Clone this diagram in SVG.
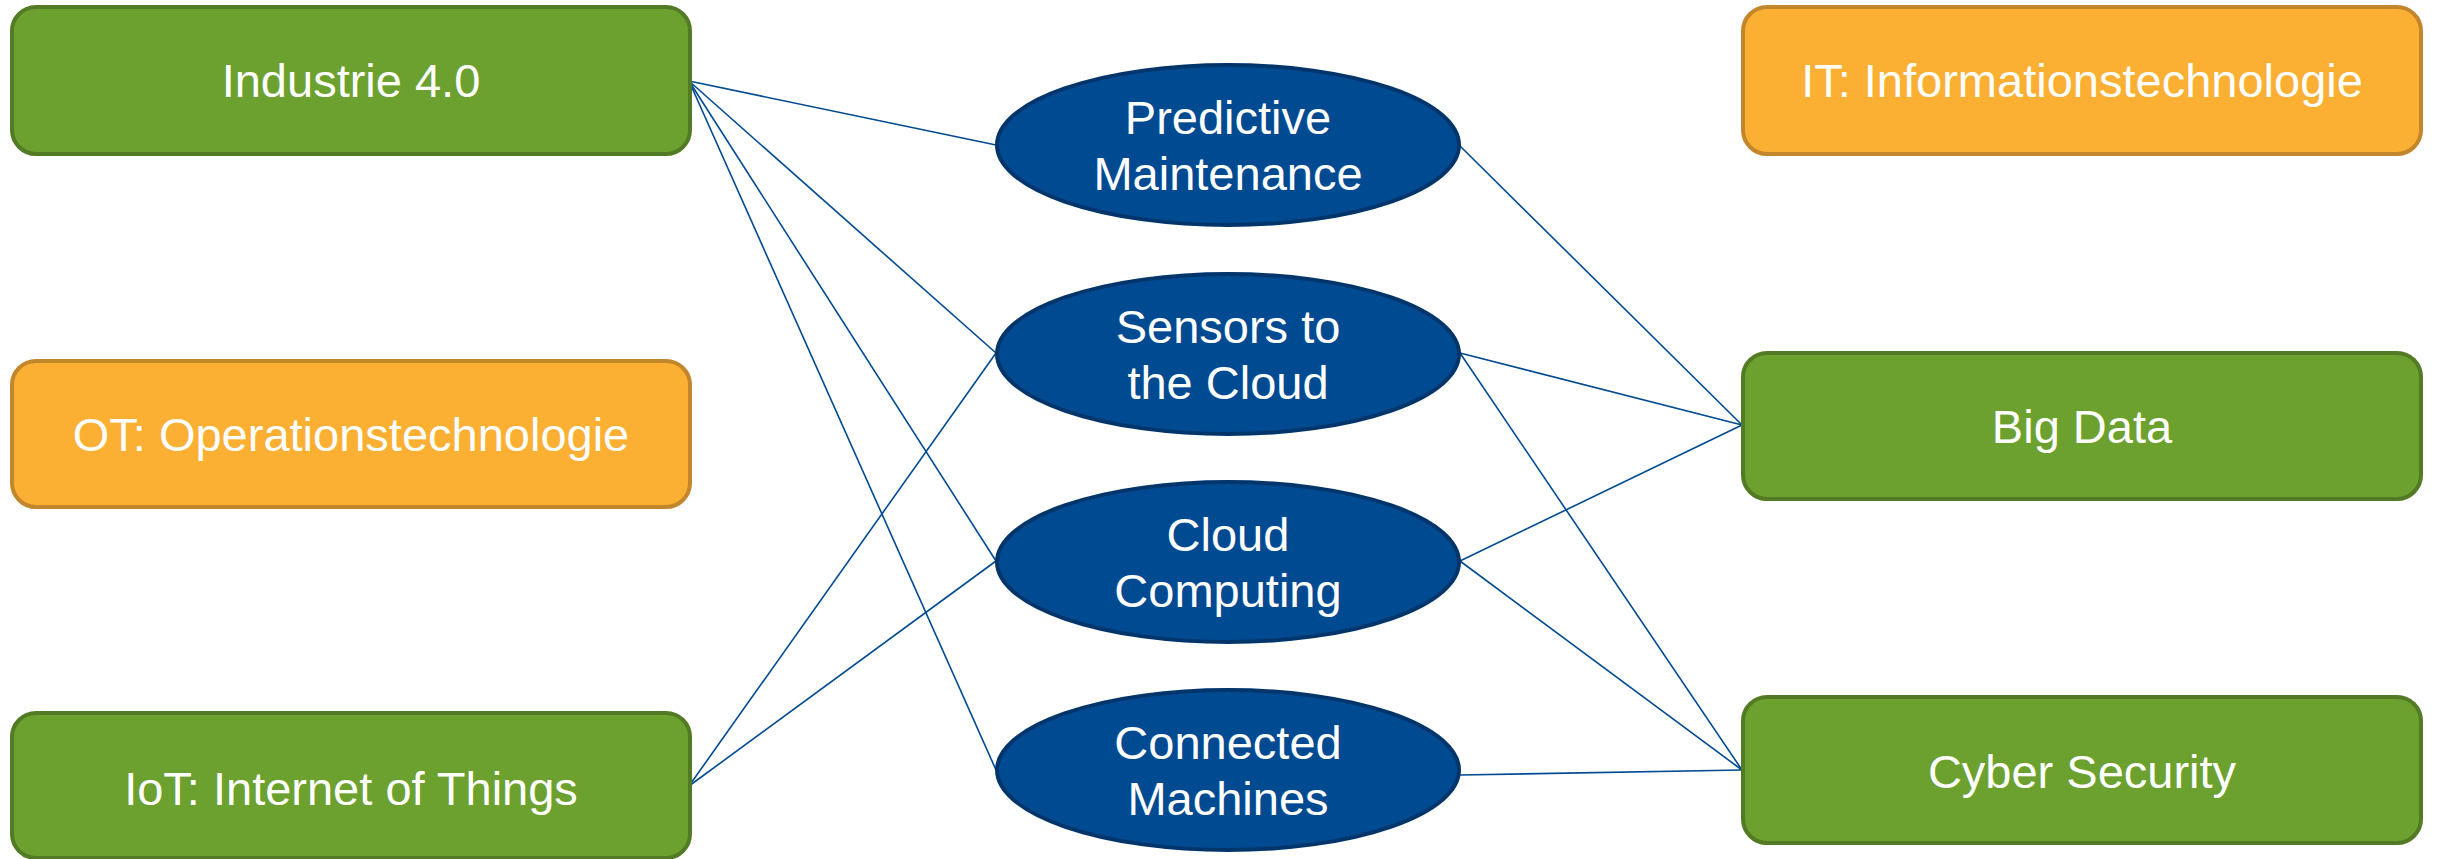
<svg xmlns="http://www.w3.org/2000/svg" width="2437" height="859" viewBox="0 0 2437 859">
<style>
.g{fill:#6ca12f;stroke:#537a24;stroke-width:4}
.o{fill:#fbb034;stroke:#c2872c;stroke-width:4}
.e{fill:#004a91;stroke:#00356b;stroke-width:4}
.t{font-family:"Liberation Sans",Arial,sans-serif;font-size:47px;fill:#ffffff;text-anchor:middle}
.c line{stroke:#004a91;stroke-width:1.6;fill:none}
</style>
<rect width="2437" height="859" fill="#ffffff"/>
<g class="c" id="connectors">
<line x1="689" y1="81" x2="996" y2="145"/>
<line x1="689" y1="81" x2="996" y2="353"/>
<line x1="689" y1="81" x2="996" y2="561"/>
<line x1="689" y1="81" x2="996" y2="770"/>
<line x1="689" y1="786" x2="996" y2="353"/>
<line x1="689" y1="786" x2="996" y2="561"/>
<line x1="1460" y1="146" x2="1742" y2="425"/>
<line x1="1460" y1="353" x2="1742" y2="425"/>
<line x1="1460" y1="353" x2="1742" y2="770"/>
<line x1="1460" y1="561" x2="1742" y2="425"/>
<line x1="1460" y1="561" x2="1742" y2="770"/>
<line x1="1460" y1="775" x2="1742" y2="770"/>
</g>
<g id="industrie"><rect class="g" x="12" y="7" width="678" height="147" rx="24"/><text class="t" x="351" y="97">Industrie 4.0</text></g>
<g id="ot"><rect class="o" x="12" y="361" width="678" height="146" rx="24"/><text class="t" x="351" y="451">OT: Operationstechnologie</text></g>
<g id="iot"><rect class="g" x="12" y="713" width="678" height="145" rx="24"/><text class="t" x="351" y="805">IoT: Internet of Things</text></g>
<g id="it"><rect class="o" x="1743" y="7" width="678" height="147" rx="24"/><text class="t" x="2082" y="97">IT: Informationstechnologie</text></g>
<g id="bigdata"><rect class="g" x="1743" y="353" width="678" height="146" rx="24"/><text class="t" x="2082" y="443">Big Data</text></g>
<g id="cyber"><rect class="g" x="1743" y="697" width="678" height="146" rx="24"/><text class="t" x="2082" y="788">Cyber Security</text></g>
<g id="predictive"><ellipse class="e" cx="1228" cy="145" rx="231" ry="80"/><text class="t" x="1228" y="134">Predictive</text><text class="t" x="1228" y="190">Maintenance</text></g>
<g id="sensors"><ellipse class="e" cx="1228" cy="354" rx="231" ry="80"/><text class="t" x="1228" y="343">Sensors to</text><text class="t" x="1228" y="399">the Cloud</text></g>
<g id="cloud"><ellipse class="e" cx="1228" cy="562" rx="231" ry="80"/><text class="t" x="1228" y="551">Cloud</text><text class="t" x="1228" y="607">Computing</text></g>
<g id="connected"><ellipse class="e" cx="1228" cy="770" rx="231" ry="80"/><text class="t" x="1228" y="759">Connected</text><text class="t" x="1228" y="815">Machines</text></g>
</svg>
